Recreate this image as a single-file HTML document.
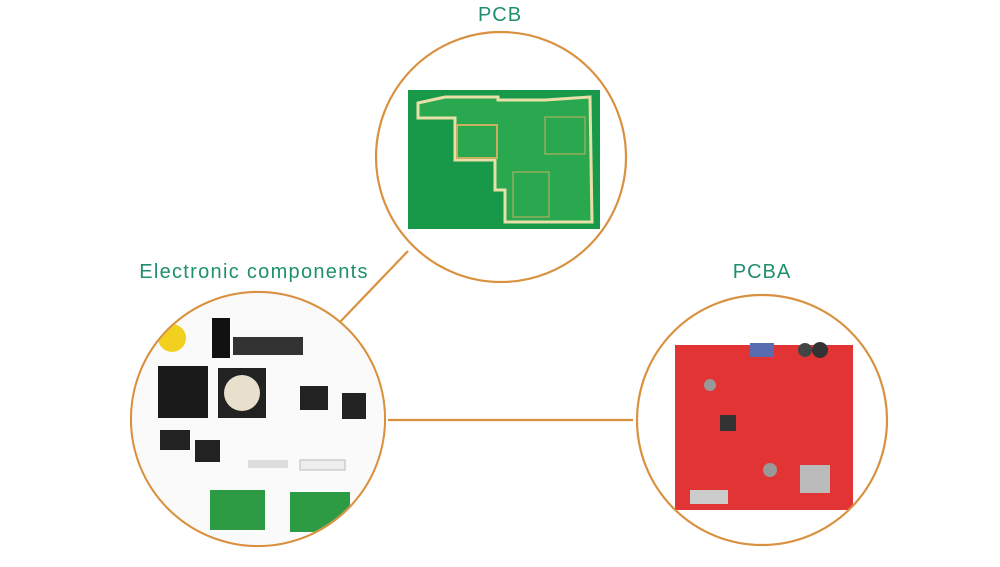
<!DOCTYPE html>
<html><head><meta charset="utf-8"><style>
body{margin:0;width:1000px;height:567px;background:#fff;overflow:hidden;font-family:"Liberation Sans",sans-serif}
.t{position:absolute;color:#1f8f6e;font-size:20px;letter-spacing:1px;transform:translateX(-50%);white-space:nowrap}
</style></head><body>
<div class="t" style="left:500px;top:4px">PCB</div>
<div class="t" style="left:254px;top:261px;letter-spacing:1.3px">Electronic components</div>
<div class="t" style="left:762px;top:261px">PCBA</div>
<svg width="1000" height="567" style="position:absolute;left:0;top:0">
<defs>
<clipPath id="cl"><circle cx="258" cy="419" r="126"/></clipPath>
<clipPath id="cr"><circle cx="762" cy="420" r="124"/></clipPath>
</defs>
<g stroke="#d9913f" stroke-width="2.2" fill="none">
<line x1="340" y1="322" x2="408" y2="251"/>
<line x1="388" y1="420" x2="633" y2="420"/>
<circle cx="501" cy="157" r="125"/>
<circle cx="258" cy="419" r="127"/>
<circle cx="762" cy="420" r="125"/>
</g>
<rect x="408" y="90" width="192" height="139" fill="#18994a"/>
<path d="M418 103 L445 97 L498 97 L498 100 L545 100 L590 97 L592 222 L505 222 L505 190 L495 190 L495 160 L455 160 L455 118 L418 118 Z" fill="#2aa850" stroke="#e8e0a8" stroke-width="3"/>
<rect x="457" y="125" width="40" height="33" fill="#2aa850" stroke="#c8b060" stroke-width="2"/>
<rect x="545" y="117" width="40" height="37" fill="#2aa850" stroke="#c8b060" stroke-width="1"/>
<rect x="513" y="172" width="36" height="45" fill="#2aa850" stroke="#c8b060" stroke-width="1"/>
<g clip-path="url(#cl)">
<rect x="130" y="292" width="256" height="254" fill="#fafafa"/>
<rect x="158" y="366" width="50" height="52" fill="#1a1a1a"/>
<rect x="218" y="368" width="48" height="50" fill="#222"/>
<circle cx="242" cy="393" r="18" fill="#e8e0cc"/>
<rect x="233" y="337" width="70" height="18" fill="#333"/>
<rect x="212" y="318" width="18" height="40" fill="#111"/>
<rect x="300" y="386" width="28" height="24" fill="#222"/>
<rect x="342" y="393" width="24" height="26" fill="#222"/>
<rect x="160" y="430" width="30" height="20" fill="#222"/>
<rect x="195" y="440" width="25" height="22" fill="#222"/>
<rect x="248" y="460" width="40" height="8" fill="#ddd"/>
<rect x="300" y="460" width="45" height="10" fill="#eee" stroke="#bbb"/>
<rect x="210" y="490" width="55" height="40" fill="#2d9a44"/>
<rect x="290" y="492" width="60" height="40" fill="#2d9a44"/>
<circle cx="172" cy="338" r="14" fill="#f2d020"/>
</g>
<g clip-path="url(#cr)">
<rect x="675" y="345" width="178" height="165" fill="#e23434"/>
<rect x="750" y="343" width="24" height="14" fill="#5a6cb0"/>
<circle cx="820" cy="350" r="8" fill="#333"/>
<circle cx="805" cy="350" r="7" fill="#444"/>
<rect x="800" y="465" width="30" height="28" fill="#bbb"/>
<rect x="690" y="490" width="38" height="14" fill="#ccc"/>
<circle cx="710" cy="385" r="6" fill="#999"/>
<circle cx="770" cy="470" r="7" fill="#999"/>
<rect x="720" y="415" width="16" height="16" fill="#333"/>
</g>
</svg>
</body></html>
